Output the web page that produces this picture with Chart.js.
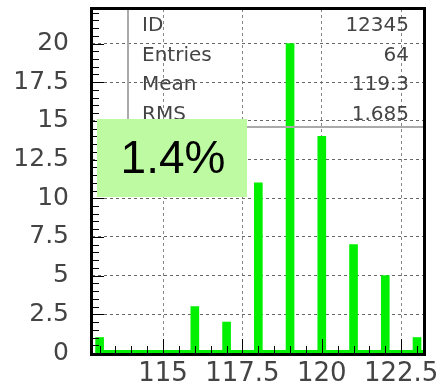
<!DOCTYPE html>
<html>
<head>
<meta charset="utf-8">
<script src="https://cdn.jsdelivr.net/npm/chart.js@4.4.1/dist/chart.umd.min.js"></script>
<style>
  html, body { margin: 0; padding: 0; background: #fff; }
</style>
</head>
<body>
<canvas id="myChart" width="440" height="390"></canvas>
<script>
// Datos del histograma
var binCenters = [113, 114, 115, 116, 117, 118, 119, 120, 121, 122, 123];
var counts = [1, 0, 0, 3, 2, 11, 20, 14, 7, 5, 1];
var yTicks = [0, 2.5, 5, 7.5, 10, 12.5, 15, 17.5, 20];
var xTicks = [115, 117.5, 120, 122.5];
var statNames = ['ID', 'Entries', 'Mean', 'RMS'];
var statValues = ['12345', '64', '119.3', '1.685'];
var badgeText = '1.4%';

var points = [];
for (var i = 0; i < binCenters.length; i++) {
    points.push({ x: binCenters[i], y: counts[i] });
}

var labelFont = 'DejaVu Sans';

// Dibuja marco, marcas menores, caja de estadisticas y etiqueta
var framePlugin = {
    id: 'frame',
    afterDatasetsDraw: function (chart) {
        var ctx = chart.ctx;
        var ca = chart.chartArea;
        var xs = chart.scales.x;
        var ys = chart.scales.y;
        var v, len, p;
        ctx.save();

        // linea verde del histograma en cero
        var y0 = ys.getPixelForValue(0);
        var gx = xs.getPixelForValue(binCenters[0]) - 4;
        ctx.fillStyle = '#00f000';
        ctx.fillRect(gx, y0 - 3, ca.right - gx, 3);

        // marcas menores
        ctx.strokeStyle = '#000';
        ctx.lineWidth = 1;
        ctx.beginPath();
        for (v = 0; v <= ys.max; v += 0.5) {
            p = Math.round(ys.getPixelForValue(v)) + 0.5;
            len = (v % 2.5 === 0) ? 12 : 7;
            ctx.moveTo(ca.left, p);
            ctx.lineTo(ca.left + len, p);
        }
        for (v = Math.ceil(xs.min * 2) / 2; v <= xs.max; v += 0.5) {
            p = Math.round(xs.getPixelForValue(v)) + 0.5;
            len = (v % 2.5 === 0) ? 14 : 7;
            ctx.moveTo(p, ca.bottom);
            ctx.lineTo(p, ca.bottom - len);
        }
        ctx.stroke();

        // caja de estadisticas
        var bx = ca.left + 36, by = ca.top + 118;
        ctx.strokeStyle = '#aaa';
        ctx.lineWidth = 2;
        ctx.beginPath();
        ctx.moveTo(bx, ca.top);
        ctx.lineTo(bx, by);
        ctx.lineTo(ca.right, by);
        ctx.stroke();
        ctx.fillStyle = '#444';
        ctx.font = '20px "' + labelFont + '"';
        ctx.textBaseline = 'alphabetic';
        for (i = 0; i < statNames.length; i++) {
            var base = ca.top + 22 + i * 29.7;
            ctx.textAlign = 'left';
            ctx.fillText(statNames[i], bx + 14, base);
            ctx.textAlign = 'right';
            ctx.fillText(statValues[i], ca.right - 15, base);
        }

        // etiqueta verde
        ctx.fillStyle = '#bdfaa2';
        ctx.fillRect(ca.left + 5, ca.top + 110, 150, 78);
        ctx.fillStyle = '#000';
        ctx.font = '46px "Liberation Sans"';
        ctx.textAlign = 'center';
        ctx.textBaseline = 'middle';
        ctx.fillText(badgeText, ca.left + 81, ca.top + 151);

        // marco
        ctx.strokeStyle = '#000';
        ctx.lineWidth = 3;
        ctx.strokeRect(ca.left - 0.5, ca.top - 0.5, ca.right - ca.left + 1, ca.bottom - ca.top + 2);
        ctx.restore();
    }
};

var ctx = document.getElementById('myChart').getContext('2d');
var myChart = new Chart(ctx, {
    type: 'bar',
    data: {
        datasets: [{
            data: points,
            backgroundColor: '#00f000',
            barThickness: 8,
            borderWidth: 0
        }]
    },
    options: {
        responsive: false,
        animation: false,
        devicePixelRatio: 1,
        layout: { padding: { top: 9, right: 16, left: 0, bottom: 0 } },
        plugins: {
            legend: { display: false },
            tooltip: { enabled: false }
        },
        scales: {
            x: {
                type: 'linear',
                offset: false,
                min: 112.76,
                max: 123.22,
                afterBuildTicks: function (s) {
                    s.ticks = xTicks.map(function (t) { return { value: t }; });
                },
                afterFit: function (s) {
                    s.height = 37;
                    s.paddingLeft = 0;
                    s.paddingRight = 0;
                },
                ticks: {
                    autoSkip: false,
                    maxRotation: 0,
                    padding: 6,
                    color: '#444',
                    font: { family: labelFont, size: 26 },
                    callback: function (v) { return String(v); }
                },
                grid: { color: '#888', drawTicks: false, lineWidth: 1, offset: false },
                border: { display: false, dash: [3, 3] }
            },
            y: {
                min: 0,
                max: 22.23,
                afterBuildTicks: function (s) {
                    s.ticks = yTicks.map(function (t) { return { value: t }; });
                },
                afterFit: function (s) {
                    s.width = 92;
                    s.paddingTop = 0;
                    s.paddingBottom = 0;
                },
                ticks: {
                    padding: 23,
                    color: '#444',
                    font: { family: labelFont, size: 25 },
                    callback: function (v) { return String(v); }
                },
                grid: { color: '#666', drawTicks: false, lineWidth: 1 },
                border: { display: false, dash: [3, 3] }
            }
        }
    },
    plugins: [framePlugin]
});
</script>
</body>
</html>
